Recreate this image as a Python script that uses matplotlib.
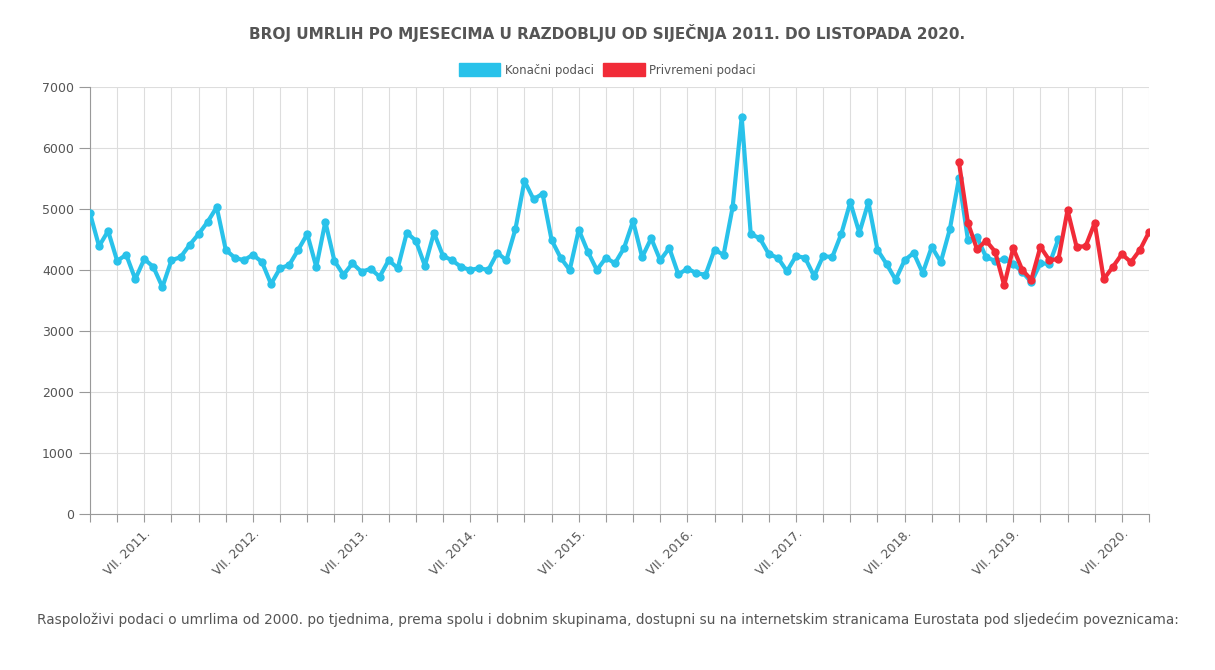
import numpy as np
import matplotlib.pyplot as plt
from matplotlib.patches import Patch

# Konačni podaci, siječanj 2011. - prosinac 2019.
konacni = [4930, 4390, 4640, 4150, 4250, 3850, 4180, 4050, 3720, 4160, 4210, 4410,
           4590, 4790, 5030, 4330, 4200, 4160, 4250, 4130, 3770, 4030, 4080, 4330,
           4590, 4050, 4790, 4150, 3920, 4110, 3970, 4020, 3890, 4160, 4030, 4610,
           4480, 4070, 4610, 4230, 4160, 4050, 4000, 4030, 4000, 4280, 4160, 4670,
           5460, 5160, 5250, 4490, 4200, 4000, 4660, 4300, 4000, 4200, 4110, 4360,
           4800, 4210, 4520, 4160, 4360, 3930, 4020, 3950, 3920, 4330, 4250, 5030,
           6510, 4590, 4520, 4260, 4200, 3980, 4230, 4200, 3900, 4230, 4210, 4590,
           5110, 4610, 5110, 4330, 4100, 3840, 4160, 4280, 3950, 4380, 4130, 4670,
           5500, 4490, 4540, 4210, 4150, 4180, 4100, 3970, 3800, 4110, 4100, 4510]
# Privremeni podaci, siječanj 2019. - listopad 2020.
privremeni = [5770, 4770, 4340, 4480, 4300, 3750, 4360, 4000, 3840, 4380, 4160, 4180,
              4980, 4380, 4390, 4770, 3850, 4050, 4260, 4130, 4330, 4620]

n = 118
x = np.arange(n)
blue = '#29c2ea'
red = '#f12b38'

fig = plt.figure(figsize=(12.15, 6.7), dpi=100)
ax = fig.add_axes([90/1215, 1-514/670, (1149-90)/1215, (514-87)/670])

ax.plot(x[:len(konacni)], konacni, color=blue, lw=3, marker='o', ms=5, zorder=3)
x_red = x[n-len(privremeni):]
ax.plot(x_red, privremeni, color=red, lw=3, marker='o', ms=5, zorder=4)

ax.set_xlim(0, n-1)
ax.set_ylim(0, 7000)
ax.set_yticks(range(0, 7001, 1000))
ax.set_xticks(np.arange(0, n, 3))
labels = []
for i in range(0, n, 3):
    labels.append(f'VII. {2011 + i//12}.' if i % 12 == 6 else '')
ax.set_xticklabels(labels, rotation=45, ha='right', rotation_mode='anchor')
ax.grid(color='#dddddd', lw=0.8)
ax.set_axisbelow(True)
for s in ['top', 'right']:
    ax.spines[s].set_visible(False)
ax.spines['left'].set_color('#999999')
ax.spines['bottom'].set_color('#999999')
ax.tick_params(axis='both', colors='#999999', labelcolor='#555555', labelsize=9, length=6)
ax.tick_params(axis='y', length=8)

fig.text(0.5, 1-33/670, 'BROJ UMRLIH PO MJESECIMA U RAZDOBLJU OD SIJEČNJA 2011. DO LISTOPADA 2020.',
         ha='center', va='center', fontsize=11, fontweight='bold', color='#555555')
fig.legend(handles=[Patch(color=blue, label='Konačni podaci'), Patch(color=red, label='Privremeni podaci')],
           loc='center', bbox_to_anchor=(0.5, 1-70/670), ncol=2, frameon=False, fontsize=8.5,
           handlelength=3.5, handleheight=1.2, columnspacing=0.8, handletextpad=0.4,
           labelcolor='#555555')
fig.text(0.5, 1-620/670, 'Raspoloživi podaci o umrlima od 2000. po tjednima, prema spolu i dobnim skupinama, '
         'dostupni su na internetskim stranicama Eurostata pod sljedećim poveznicama:',
         ha='center', va='center', fontsize=9.8, color='#555555')

fig.savefig('out.png', dpi=100)
